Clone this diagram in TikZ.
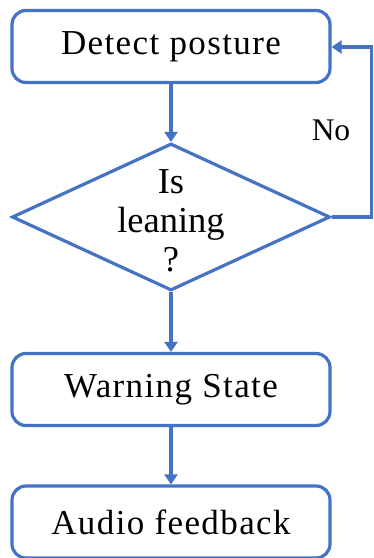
\documentclass[tikz,border=0pt]{standalone}
\usepackage{fontspec}
\setmainfont{Liberation Serif}
\usetikzlibrary{arrows.meta,shapes.geometric}
\definecolor{flowblue}{RGB}{68,114,196}
\begin{document}
\begin{tikzpicture}[x=1pt,y=-1pt,
  flowline/.style={draw=flowblue,line width=3.2pt},
  flowarrow/.style={flowline,-{Triangle[width=13pt,length=10pt]}},
  procbox/.style={flowline,rounded corners=14pt,minimum width=318pt,minimum height=72pt,
    inner sep=0pt,font=\fontsize{35}{40}\selectfont\addfontfeature{LetterSpace=4}},
  decision/.style={flowline,diamond,minimum width=318pt,minimum height=147pt,inner sep=0pt},
  decisiontext/.style={align=center,font=\fontsize{36.5}{39}\selectfont}]
  \useasboundingbox (0,0) rectangle (373,558);
  \node[procbox] (detect) at (171,46.5) {\raisebox{-2.5pt}{Detect posture}};
  \node[decision] (lean) at (171,217) {};
  \node[decisiontext] (leantxt) at (171,221) {Is\\leaning\\?};
  \node[procbox] (warn) at (171,389.5) {\raisebox{-2.5pt}{Warning State}};
  \node[procbox] (audio) at (171,522) {\raisebox{-2.5pt}{Audio feedback}};
  \node[font=\fontsize{31.5}{34}\selectfont,anchor=base] (no) at (331,140) {No};
  \coordinate (loopa) at (371.5,217);
  \coordinate (loopb) at (371.5,47);
  \draw[flowarrow] (detect.south) -- (lean.north);
  \draw[flowarrow] (lean.south) -- (warn.north);
  \draw[flowarrow] (warn.south) -- (audio.north);
  \draw[flowarrow] (lean.east) -- (loopa) -- (loopb) -- (detect.east |- loopb);
\end{tikzpicture}
\end{document}
